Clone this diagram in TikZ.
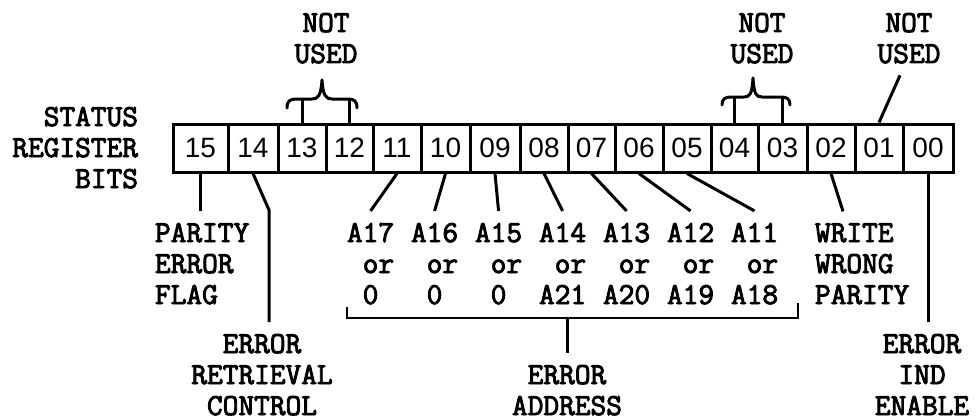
\documentclass[tikz,border=0pt]{standalone}
\usepackage{fontspec}
\newfontfamily\tw[FakeBold=3]{Latin Modern Mono}
\newfontfamily\dg{Liberation Sans}
\begin{document}
\begin{tikzpicture}[x=1pt,y=-1pt,
  cell/.style={draw, line width=3pt, minimum height=48pt, inner sep=0pt, font=\dg\fontsize{28}{30}\selectfont},
  lbl/.style={inner sep=0pt, outer xsep=0pt, outer ysep=12pt, font=\tw\fontsize{30.5}{31}\selectfont},
  conn/.style={line width=3pt},
  brc/.style={line width=3pt, line cap=round, line join=round},
]
\useasboundingbox (0,0) rectangle (980,420);

% register cells
\foreach \b/\l/\r in {15/173/228,14/228/278,13/278/326,12/326/373,11/373/421,10/421/470,09/470/520,08/520/568,07/568/615,06/615/663,05/663/711,04/711/758,03/758/807,02/807/855,01/855/903,00/903/953}{
  \pgfmathsetmacro\w{\r-\l}
  \pgfmathsetmacro\cx{(\r+\l)/2}
  \node[cell, minimum width=\w pt] (c\b) at (\cx,148) {\b};
}

% left title (anchor at baseline of last line)
\node[lbl, align=right, anchor=base east] (srb) at (138,188) {STATUS\\REGISTER\\BITS};

% NOT USED labels
\node[lbl, align=center, anchor=base] (nu1) at (326,63) {NOT\\USED};
\node[lbl, align=center, anchor=base] (nu2) at (762,63) {NOT\\USED};
\node[lbl, align=center, anchor=base] (nu3) at (909,63) {NOT\\USED};

% braces
\coordinate (arm1) at (0,99);
\coordinate (arm2) at (0,97);
\draw[conn] (c13.north) -- (c13.north |- arm1);
\draw[conn] (c12.north) -- (c12.north |- arm1);
\draw[brc] (287,108) .. controls (287,101) and (290,99) .. (296,99) -- (312,99) .. controls (318,99) and (321,96) .. (322,80) .. controls (323,96) and (326,99) .. (332,99) -- (348,99) .. controls (354,99) and (357,101) .. (357,108);
\draw[conn] (c04.north) -- (c04.north |- arm2);
\draw[conn] (c03.north) -- (c03.north |- arm2);
\draw[brc] (722,105) .. controls (722,99) and (725,97) .. (731,97) -- (744,97) .. controls (750,97) and (752,94) .. (753,78) .. controls (754,94) and (756,97) .. (762,97) -- (781,97) .. controls (787,97) and (790,99) .. (790,105);
\draw[conn] (c01.north) -- ([xshift=-9pt]nu3.south);

% lower labels
\node[lbl, align=left, anchor=base west] (pef) at (155,304) {PARITY\\ERROR\\FLAG};
\draw[conn] (c15.south) -- (c15.south |- pef.north);

\node[lbl, align=center, anchor=base] (erc) at (262,415) {ERROR\\RETRIEVAL\\CONTROL};
\coordinate (k14) at (269,210);
\draw[conn] (c14.south) -- (k14) -- (k14 |- erc.north);

\node[lbl, align=left, anchor=base west] (a17) at (347,304) {A17\\\phantom{A}or\\\phantom{A}0};
\node[lbl, align=left, anchor=base west] (a16) at (411,304) {A16\\\phantom{A}or\\\phantom{A}0};
\node[lbl, align=left, anchor=base west] (a15) at (475,304) {A15\\\phantom{A}or\\\phantom{A}0};
\node[lbl, align=left, anchor=base west] (a14) at (539,304) {A14\\\phantom{A}or\\A21};
\node[lbl, align=left, anchor=base west] (a13) at (603,304) {A13\\\phantom{A}or\\A20};
\node[lbl, align=left, anchor=base west] (a12) at (667,304) {A12\\\phantom{A}or\\A19};
\node[lbl, align=left, anchor=base west] (a11) at (731,304) {A11\\\phantom{A}or\\A18};
\draw[conn] (c11.south) -- (a17.north);
\draw[conn] (c10.south) -- (a16.north);
\draw[conn] (c09.south) -- (a15.north);
\draw[conn] (c08.south) -- (a14.north);
\draw[conn] (c07.south) -- (a13.north);
\draw[conn] (c06.south) -- (a12.north);
\draw[conn] (c05.south) -- (a11.north);

\coordinate (bl) at (347,318);
\coordinate (br) at (798,318);
\draw[conn, line width=2.6pt] (bl) ++(0,-11) -- (bl) -- (br) -- ++(0,-15);
\node[lbl, align=center, anchor=base] (addr) at (567,415) {ERROR\\ADDRESS};
\draw[conn] (addr.north |- bl) -- (addr.north);

\node[lbl, align=left, anchor=base west] (wwp) at (815,304) {WRITE\\WRONG\\PARITY};
\draw[conn] (c02.south) -- ([xshift=28pt]wwp.north west);

\node[lbl, align=center, anchor=base] (eie) at (922,415) {ERROR\\IND\\ENABLE};
\draw[conn] (c00.south) -- (c00.south |- eie.north);
\end{tikzpicture}
\end{document}
